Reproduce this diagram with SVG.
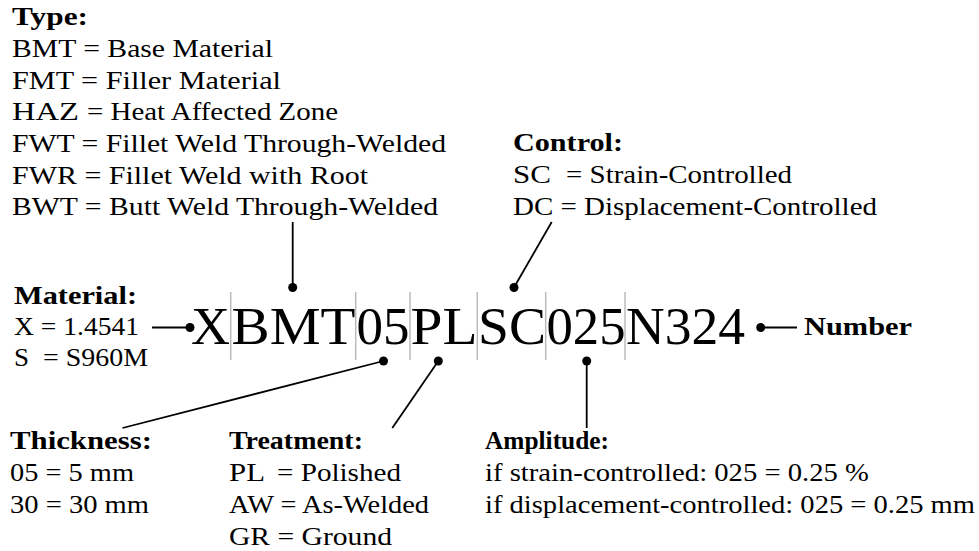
<svg xmlns="http://www.w3.org/2000/svg" width="979" height="551" viewBox="0 0 979 551">
<style>
text{font-family:"Liberation Serif","DejaVu Serif","Times New Roman",serif;font-size:25px;fill:#000}
.b{font-weight:bold}
.code{font-size:53px}
.sep{stroke:#bbb;stroke-width:1.5}
.con line{stroke:#000;stroke-width:1.8}
.con circle{fill:#000}
</style>
<rect width="979" height="551" fill="#fff"/>
<g id="type">
<text class="b" x="12" y="25" textLength="76" lengthAdjust="spacingAndGlyphs">Type:</text>
<text x="12" y="57" textLength="261" lengthAdjust="spacingAndGlyphs">BMT = Base Material</text>
<text x="12" y="88.5" textLength="269" lengthAdjust="spacingAndGlyphs">FMT = Filler Material</text>
<text x="12" y="120" textLength="67" lengthAdjust="spacingAndGlyphs">HAZ</text>
<text x="87" y="120" textLength="251" lengthAdjust="spacingAndGlyphs">= Heat Affected Zone</text>
<text x="12" y="152" textLength="434" lengthAdjust="spacingAndGlyphs">FWT = Fillet Weld Through-Welded</text>
<text x="12" y="183.5" textLength="356" lengthAdjust="spacingAndGlyphs">FWR = Fillet Weld with Root</text>
<text x="12" y="215" textLength="426" lengthAdjust="spacingAndGlyphs">BWT = Butt Weld Through-Welded</text>
</g>
<g id="control">
<text class="b" x="513" y="151" textLength="110" lengthAdjust="spacingAndGlyphs">Control:</text>
<text x="513" y="183" textLength="38" lengthAdjust="spacingAndGlyphs">SC</text>
<text x="566" y="183" textLength="226" lengthAdjust="spacingAndGlyphs">= Strain-Controlled</text>
<text x="513" y="215" textLength="364" lengthAdjust="spacingAndGlyphs">DC = Displacement-Controlled</text>
</g>
<g id="material">
<text class="b" x="14" y="304" textLength="123" lengthAdjust="spacingAndGlyphs">Material:</text>
<text x="14" y="335" textLength="125" lengthAdjust="spacingAndGlyphs">X = 1.4541</text>
<text x="14" y="366" textLength="15" lengthAdjust="spacingAndGlyphs">S</text>
<text x="43" y="366" textLength="105" lengthAdjust="spacingAndGlyphs">= S960M</text>
</g>
<g id="code">
<text class="code" x="191" y="344" textLength="39" lengthAdjust="spacingAndGlyphs">X</text>
<text class="code" x="231.5" y="344" textLength="124" lengthAdjust="spacingAndGlyphs">BMT</text>
<text class="code" x="356.5" y="344" textLength="53" lengthAdjust="spacingAndGlyphs">05</text>
<text class="code" x="410.5" y="344" textLength="67" lengthAdjust="spacingAndGlyphs">PL</text>
<text class="code" x="478" y="344" textLength="68" lengthAdjust="spacingAndGlyphs">SC</text>
<text class="code" x="546.5" y="344" textLength="79" lengthAdjust="spacingAndGlyphs">025</text>
<text class="code" x="626" y="344" textLength="119" lengthAdjust="spacingAndGlyphs">N324</text>
<line class="sep" x1="230.7" y1="292" x2="230.7" y2="360"/>
<line class="sep" x1="355.7" y1="292" x2="355.7" y2="360"/>
<line class="sep" x1="410" y1="292" x2="410" y2="360"/>
<line class="sep" x1="477.3" y1="292" x2="477.3" y2="360"/>
<line class="sep" x1="545.7" y1="292" x2="545.7" y2="360"/>
<line class="sep" x1="625" y1="292" x2="625" y2="360"/>
</g>
<g id="number">
<text class="b" x="804" y="335" textLength="108" lengthAdjust="spacingAndGlyphs">Number</text>
</g>
<g id="thickness">
<text class="b" x="10" y="449" textLength="142" lengthAdjust="spacingAndGlyphs">Thickness:</text>
<text x="10" y="481" textLength="124" lengthAdjust="spacingAndGlyphs">05 = 5 mm</text>
<text x="10" y="513" textLength="139" lengthAdjust="spacingAndGlyphs">30 = 30 mm</text>
</g>
<g id="treatment">
<text class="b" x="229" y="449" textLength="134" lengthAdjust="spacingAndGlyphs">Treatment:</text>
<text x="229" y="481" textLength="36" lengthAdjust="spacingAndGlyphs">PL</text>
<text x="277" y="481" textLength="124" lengthAdjust="spacingAndGlyphs">= Polished</text>
<text x="229" y="513" textLength="200" lengthAdjust="spacingAndGlyphs">AW = As-Welded</text>
<text x="229" y="545" textLength="163" lengthAdjust="spacingAndGlyphs">GR = Ground</text>
</g>
<g id="amplitude">
<text class="b" x="485" y="449" textLength="124" lengthAdjust="spacingAndGlyphs">Amplitude:</text>
<text x="485" y="481" textLength="384" lengthAdjust="spacingAndGlyphs">if strain-controlled: 025 = 0.25 %</text>
<text x="485" y="513" textLength="490" lengthAdjust="spacingAndGlyphs">if displacement-controlled: 025 = 0.25 mm</text>
</g>
<g id="connectors" class="con">
<line x1="292.7" y1="222" x2="292.7" y2="287.5"/><circle cx="292.7" cy="287.5" r="4.5"/>
<line x1="551.7" y1="222" x2="514" y2="287.5"/><circle cx="514" cy="287.5" r="4.5"/>
<line x1="152" y1="327.5" x2="190" y2="327.5"/><circle cx="190" cy="327.5" r="4.5"/>
<line x1="760.7" y1="327.5" x2="797" y2="327.5"/><circle cx="760.7" cy="327.5" r="4.5"/>
<line x1="383.5" y1="361" x2="122.5" y2="428"/><circle cx="383.5" cy="361" r="4.5"/>
<line x1="438.3" y1="361" x2="392.3" y2="428"/><circle cx="438.3" cy="361" r="4.5"/>
<line x1="586.7" y1="361" x2="586.7" y2="428"/><circle cx="586.7" cy="361" r="4.5"/>
</g>
</svg>
